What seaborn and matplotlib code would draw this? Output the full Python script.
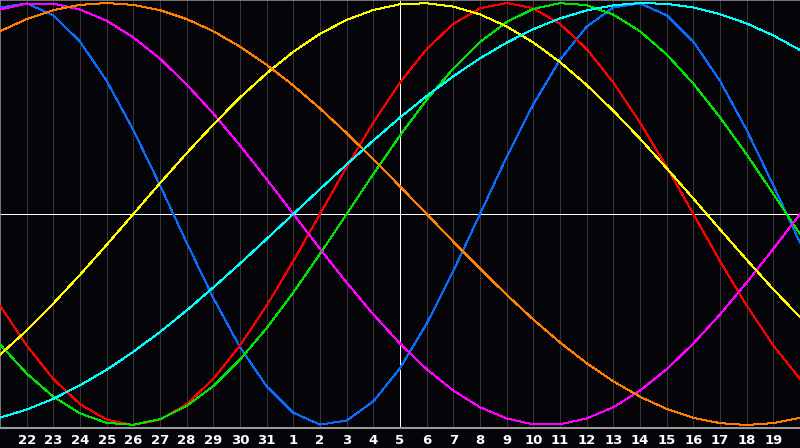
import matplotlib
matplotlib.use("Agg")
import matplotlib.pyplot as plt
import seaborn as sns
import pandas as pd

# Day labels shown under the gridlines (index 1..29); index 0 and 30 are the chart edges
day_labels = [22, 23, 24, 25, 26, 27, 28, 29, 30, 31,
              1, 2, 3, 4, 5, 6, 7, 8, 9, 10, 11, 12, 13, 14, 15, 16, 17, 18, 19]
today_label = 5

# Cycle values for each day index 0..30
physical = [0.979, 0.998, 0.942, 0.817, 0.631, 0.398, 0.136, -0.136, -0.398, -0.631,
            -0.817, -0.942, -0.998, -0.979, -0.888, -0.731, -0.520, -0.270, 0.000, 0.270,
            0.520, 0.731, 0.888, 0.979, 0.998, 0.942, 0.817, 0.631, 0.398, 0.136, -0.136]
emotional = [-0.434, -0.623, -0.782, -0.901, -0.975, -1.000, -0.975, -0.901, -0.782, -0.623,
             -0.434, -0.223, 0.000, 0.223, 0.434, 0.623, 0.782, 0.901, 0.975, 1.000,
             0.975, 0.901, 0.782, 0.623, 0.434, 0.223, 0.000, -0.223, -0.434, -0.623, -0.782]
intellectual = [-0.618, -0.756, -0.866, -0.945, -0.990, -0.999, -0.972, -0.910, -0.815, -0.690,
                -0.541, -0.372, -0.189, 0.000, 0.189, 0.372, 0.541, 0.690, 0.815, 0.910,
                0.972, 0.999, 0.990, 0.945, 0.866, 0.756, 0.618, 0.458, 0.282, 0.095, -0.095]
intuitive = [0.969, 0.997, 0.997, 0.969, 0.916, 0.837, 0.736, 0.614, 0.476, 0.325,
             0.165, -0.000, -0.165, -0.325, -0.476, -0.614, -0.736, -0.837, -0.916, -0.969,
             -0.997, -0.997, -0.969, -0.916, -0.837, -0.736, -0.614, -0.476, -0.325, -0.165, -0.000]
aesthetic = [-0.667, -0.552, -0.424, -0.288, -0.146, 0.000, 0.146, 0.288, 0.424, 0.552,
             0.667, 0.769, 0.854, 0.920, 0.967, 0.994, 0.999, 0.983, 0.946, 0.889,
             0.813, 0.720, 0.611, 0.489, 0.357, 0.217, 0.073, -0.073, -0.217, -0.357, -0.489]
awareness = [0.866, 0.924, 0.966, 0.991, 1.000, 0.991, 0.966, 0.924, 0.866, 0.793,
             0.707, 0.609, 0.500, 0.383, 0.259, 0.131, 0.000, -0.131, -0.259, -0.383,
             -0.500, -0.609, -0.707, -0.793, -0.866, -0.924, -0.966, -0.991, -1.000, -0.991, -0.966]
spiritual = [-0.965, -0.927, -0.876, -0.812, -0.738, -0.653, -0.559, -0.457, -0.348, -0.235,
             -0.118, -0.000, 0.118, 0.235, 0.348, 0.457, 0.559, 0.653, 0.738, 0.812,
             0.876, 0.927, 0.965, 0.989, 1.000, 0.996, 0.979, 0.947, 0.903, 0.846, 0.777]

series = {
    "Physical": physical,
    "Emotional": emotional,
    "Intellectual": intellectual,
    "Intuitive": intuitive,
    "Aesthetic": aesthetic,
    "Awareness": awareness,
    "Spiritual": spiritual,
}
colors = {
    "Physical": "#0a6cff",
    "Emotional": "#ff0000",
    "Intellectual": "#00e600",
    "Intuitive": "#ff00ff",
    "Aesthetic": "#ffff00",
    "Awareness": "#ff8000",
    "Spiritual": "#00ffff",
}

rows = []
for name, vals in series.items():
    for i, v in enumerate(vals):
        rows.append({"day": i, "value": v, "cycle": name})
df = pd.DataFrame(rows)

sns.set_theme(style="dark")
bg = "#050509"
fig = plt.figure(figsize=(8.0, 4.48), dpi=100, facecolor=bg)
ax = fig.add_axes([0.0, 20 / 448, 1.0, 428 / 448])
ax.set_facecolor(bg)

n_days = len(physical) - 1
ax.set_xlim(0, n_days)
lim = 214 / 211
ax.set_ylim(-lim, lim)

thin = 0.72  # ~1 px at 100 dpi

# day gridlines
for i in range(1, n_days):
    ax.axvline(i, color="#36363a", lw=thin, zorder=1, antialiased=False)

# today marker and zero line
today_idx = 1 + day_labels.index(today_label, 10)
ax.axvline(today_idx, color="white", lw=thin, zorder=2, antialiased=False)
ax.axhline(0, color="white", lw=thin, zorder=2, antialiased=False)

sns.lineplot(data=df, x="day", y="value", hue="cycle", palette=colors,
             hue_order=list(series.keys()), lw=thin, legend=False, ax=ax,
             zorder=3, antialiased=False)

ax.spines["right"].set_visible(False)
for side in ["left", "top"]:
    ax.spines[side].set_color("#8a8a8a")
    ax.spines[side].set_linewidth(1.2)
ax.spines["bottom"].set_color("#9a9a9a")
ax.spines["bottom"].set_linewidth(1.5)

ax.set_xticks(list(range(1, n_days)))
ax.set_xticklabels([str(d) for d in day_labels])
ax.tick_params(axis="x", length=0, pad=4, colors="white", labelsize=9.5)
for t in ax.get_xticklabels():
    t.set_fontweight("bold")
    t.set_family(["DejaVu Sans"])
ax.set_yticks([])
ax.set_xlabel("")
ax.set_ylabel("")
ax.grid(False)

fig.savefig("out.png", dpi=100, facecolor=bg)
